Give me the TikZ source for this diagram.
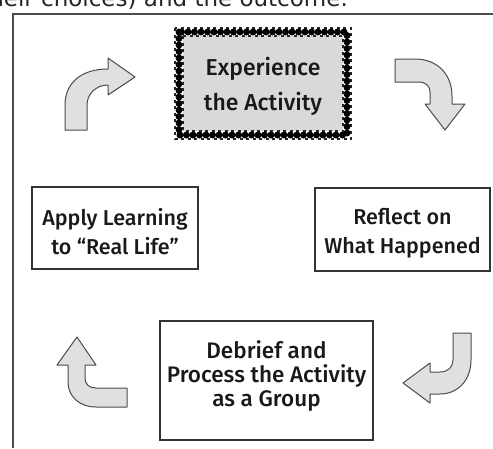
\documentclass[tikz,border=0pt]{standalone}
\usepackage{fontspec}
\setmainfont{Fira Sans}[BoldFont={Fira Sans Medium}]
\newfontfamily\topfont{DejaVu Sans}
\begin{document}
\begin{tikzpicture}[x=1pt,y=-1pt,
  frame/.style={draw=black!70,line width=1.6pt},
  stagebox/.style={draw=black!80,line width=1.1pt,inner sep=0pt},
  stagetext/.style={align=center,text=black!90,inner sep=0pt},
  blockarrow/.style={draw=black!70,fill=black!12,line width=1pt,line join=round},
  lacebeads/.style={draw=black,line width=7pt,line cap=round,dash pattern=on 0pt off 6.5pt},
  laceedge/.style={draw=black!85,line width=1.6pt,dash pattern=on 3pt off 3.5pt}
]
\useasboundingbox (0,0) rectangle (493,448);
\clip (0,0) rectangle (493,448);
\fill[white] (0,0) rectangle (493,448);

% clipped caption line at the top
\node[anchor=base east,inner sep=0pt,font=\topfont\fontsize{23}{25}\selectfont,text=black!85] (caption) at (348,6) {their choices) and the outcome.};

% outer frame
\draw[frame] (13,448) -- (13,14) -- (493,14);

% Experience box with lace border
\fill[black!15] (183,36) rectangle (343,131);
\draw[laceedge] (175,28) rectangle (351,139);
\draw[laceedge] (183,36) rectangle (343,131);
\draw[lacebeads] (179,32) rectangle (347,135);
\node[stagebox,draw=none,minimum width=178pt,minimum height=113pt] (exp) at (263,83.5) {};
\node[stagetext,font=\bfseries\fontsize{23}{35}\selectfont] (expt) at (263,86) {Experience\\the Activity};

% Apply box
\node[stagebox,minimum width=166pt,minimum height=82pt] (apply) at (115,228) {};
\node[stagetext,font=\bfseries\fontsize{21.5}{29}\selectfont] (applyt) at (115,232) {Apply Learning\\to ``Real Life''};

% Reflect box
\node[stagebox,minimum width=175pt,minimum height=83pt] (reflect) at (402.5,229.5) {};
\node[stagetext,font=\bfseries\fontsize{21.5}{29}\selectfont] (reflectt) at (402.5,233) {Reflect on\\What Happened};

% Debrief box
\node[stagebox,minimum width=213pt,minimum height=119pt] (debrief) at (266.5,380.5) {};
\node[stagetext,font=\bfseries\fontsize{22.5}{24}\selectfont] (debrieft) at (266.5,376) {Debrief and\\Process the Activity\\as a Group};

% top-left arrow (up then right)
\draw[blockarrow] (65,130) -- (65,105) .. controls (65,84) and (80,69) .. (108,69) -- (108,58) -- (135,77) -- (108,95) -- (108,85) .. controls (96,85) and (87,94) .. (87,105) -- (87,130) -- cycle;

% top-right arrow (right then down)
\draw[blockarrow] (395,59) -- (415,59) .. controls (437,59) and (452,74) .. (452,96) -- (452,104) -- (465,104) -- (445,130) -- (425,104) -- (430,104) -- (430,92) .. controls (430,86) and (426,82) .. (418,82) -- (395,82) -- cycle;

% bottom-right arrow (down then left)
\draw[blockarrow] (453,333) -- (471,333) -- (471,360) .. controls (471,380) and (458,394) .. (440,394) -- (430,394) -- (430,403) -- (403,383) -- (430,363) -- (430,372) -- (440,372) .. controls (448,372) and (453,367) .. (453,360) -- cycle;

% bottom-left arrow (left then up)
\draw[blockarrow] (68,365) -- (57,365) -- (77,337) -- (96,365) -- (85,365) -- (85,378) .. controls (85,384) and (89,388) .. (96,388) -- (127,388) -- (127,407) -- (96,407) .. controls (79,407) and (68,396) .. (68,382) -- cycle;
\end{tikzpicture}
\end{document}
